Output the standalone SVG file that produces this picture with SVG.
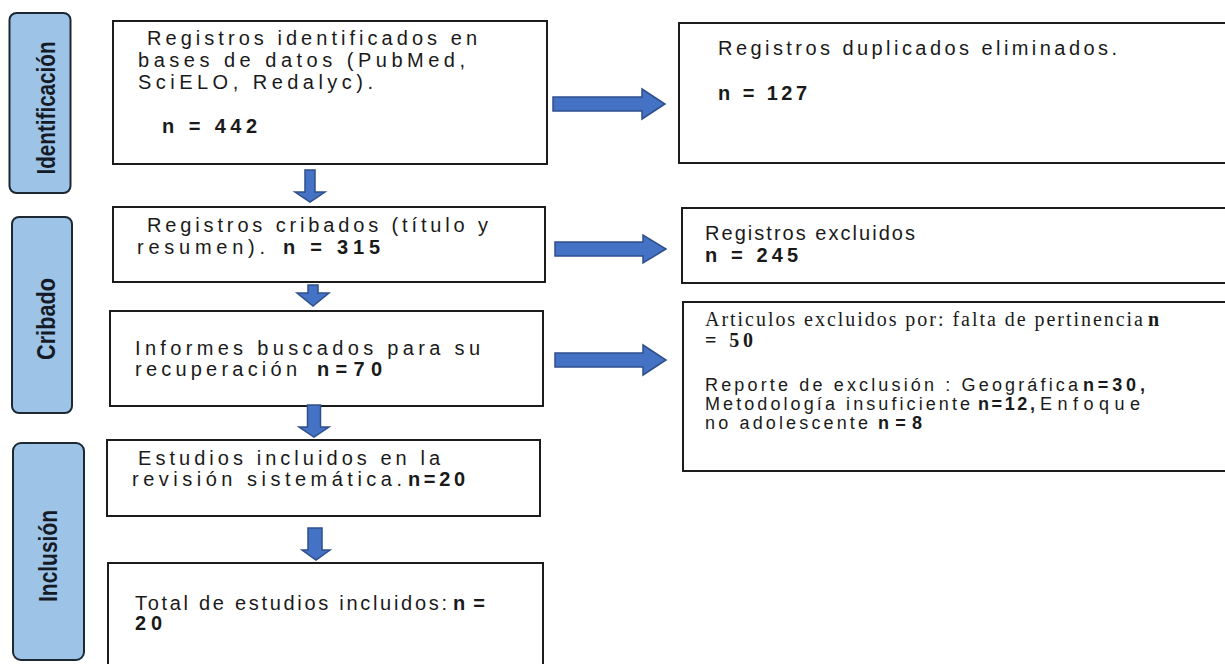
<svg xmlns="http://www.w3.org/2000/svg" width="1225" height="664" viewBox="0 0 1225 664">
<style>
.box{fill:#fff;stroke:#1c1c1c;stroke-width:2}
.phase{fill:#9dc3e6;stroke:#1e2833;stroke-width:2}
.ph{font-family:"Liberation Sans Narrow","Liberation Sans",Arial,sans-serif;font-weight:bold;font-size:26px;fill:#141b26;text-anchor:middle}
.t{font-family:"Liberation Sans",Arial,sans-serif;font-size:20px;fill:#1a1a1a}
.s{font-family:"Liberation Sans",Arial,sans-serif;font-size:18px;fill:#1a1a1a}
.b{font-weight:bold}
.serif{font-family:"Liberation Serif","Times New Roman",serif;font-size:20px;fill:#1a1a1a}
.arr{fill:#4472c4;stroke:#2f4f8a;stroke-width:1.5;stroke-linejoin:miter}
</style>
<rect width="1225" height="664" fill="#fff"/>
<g id="phase-identificacion">
<rect class="phase" x="9.5" y="13" width="61" height="180" rx="7"/>
<text class="ph" transform="translate(55,108) rotate(-90)" textLength="133" lengthAdjust="spacingAndGlyphs">Identificación</text>
</g>
<g id="phase-cribado">
<rect class="phase" x="12" y="217" width="60" height="196" rx="7"/>
<text class="ph" transform="translate(55,319) rotate(-90)" textLength="82" lengthAdjust="spacingAndGlyphs">Cribado</text>
</g>
<g id="phase-inclusion">
<rect class="phase" x="13" y="443" width="71" height="217" rx="8"/>
<text class="ph" transform="translate(57,556) rotate(-90)" textLength="92" lengthAdjust="spacingAndGlyphs">Inclusión</text>
</g>
<g id="node-identificados">
<rect class="box" x="113" y="21" width="434" height="143"/>
<text class="t" x="147" y="45" textLength="330" lengthAdjust="spacing">Registros identificados en</text>
<text class="t" x="138" y="67" textLength="327" lengthAdjust="spacing">bases de datos (PubMed,</text>
<text class="t" x="138" y="89" textLength="235" lengthAdjust="spacing">SciELO, Redalyc).</text>
<text class="t b" x="162" y="133" textLength="95" lengthAdjust="spacing">n = 442</text>
</g>
<g id="node-duplicados">
<rect class="box" x="679" y="23" width="560" height="140"/>
<text class="t" x="718" y="55" textLength="399" lengthAdjust="spacing">Registros duplicados eliminados.</text>
<text class="t b" x="718" y="100" textLength="89" lengthAdjust="spacing">n = 127</text>
</g>
<g id="node-cribados">
<rect class="box" x="113" y="207" width="432" height="75"/>
<text class="t" x="147" y="232" textLength="341" lengthAdjust="spacing">Registros cribados (título y</text>
<text class="t" x="137" y="254" textLength="128" lengthAdjust="spacing">resumen).</text>
<text class="t b" x="283" y="254" textLength="97" lengthAdjust="spacing">n = 315</text>
</g>
<g id="node-excluidos">
<rect class="box" x="682" y="208" width="560" height="75"/>
<text class="t" x="705" y="240" textLength="210" lengthAdjust="spacing">Registros excluidos</text>
<text class="t b" x="705" y="262" textLength="93" lengthAdjust="spacing">n  = 245</text>
</g>
<g id="node-informes">
<rect class="box" x="110" y="311" width="433" height="95"/>
<text class="t" x="135" y="355" textLength="345" lengthAdjust="spacing">Informes buscados para su</text>
<text class="t" x="135" y="376" textLength="162" lengthAdjust="spacing">recuperación</text>
<text class="t b" x="317" y="376" textLength="65" lengthAdjust="spacing">n=70</text>
</g>
<g id="node-articulos-excluidos">
<rect class="box" x="683" y="302" width="560" height="169"/>
<text class="serif" x="705" y="326" textLength="438" lengthAdjust="spacing">Articulos excluidos por: falta de pertinencia</text>
<text class="serif b" x="1148" y="326">n</text>
<text class="serif b" x="705" y="347" textLength="48" lengthAdjust="spacing">= 50</text>
<text class="s" x="705" y="391" textLength="373" lengthAdjust="spacing">Reporte de exclusión : Geográfica</text>
<text class="s b" x="1083" y="391" textLength="62" lengthAdjust="spacing">n=30,</text>
<text class="s" x="705" y="410" textLength="265" lengthAdjust="spacing">Metodología insuficiente</text>
<text class="s b" x="978" y="410" textLength="57" lengthAdjust="spacing">n=12,</text>
<text class="s" x="1040" y="410" textLength="100" lengthAdjust="spacing">Enfoque</text>
<text class="s" x="705" y="429" textLength="163" lengthAdjust="spacing">no adolescente</text>
<text class="s b" x="878" y="429" textLength="44" lengthAdjust="spacing">n=8</text>
</g>
<g id="node-estudios">
<rect class="box" x="107" y="440" width="433" height="76"/>
<text class="t" x="138" y="465" textLength="302" lengthAdjust="spacing">Estudios incluidos en la</text>
<text class="t" x="132" y="486" textLength="270" lengthAdjust="spacing">revisión sistemática.</text>
<text class="t b" x="408" y="486" textLength="57" lengthAdjust="spacing">n=20</text>
</g>
<g id="node-total">
<rect class="box" x="108" y="563" width="435" height="110"/>
<text class="t" x="135" y="610" textLength="312" lengthAdjust="spacing">Total de estudios incluidos:</text>
<text class="t b" x="453" y="610" textLength="32" lengthAdjust="spacing">n=</text>
<text class="t b" x="135" y="630" textLength="27" lengthAdjust="spacing">20</text>
</g>
<g id="connectors">
<path class="arr" d="M553,97 H642 V89 L665,104 L642,119 V111 H553 Z"/>
<path class="arr" d="M555,242 H643 V235 L666,249 L643,263 V256 H555 Z"/>
<path class="arr" d="M555,353 H643 V345 L666,360 L643,375 V367 H555 Z"/>
<path class="arr" d="M305,170 V192 H295 L310,202 L325,192 H315 V170 Z"/>
<path class="arr" d="M308,285 V293 H297 L313,306 L329,293 H318 V285 Z"/>
<path class="arr" d="M307.5,405 V427 H299 L314,437 L329,427 H320.5 V405 Z"/>
<path class="arr" d="M308,528 V550 H302 L316,560 L330,550 H322 V528 Z"/>
</g>
</svg>
